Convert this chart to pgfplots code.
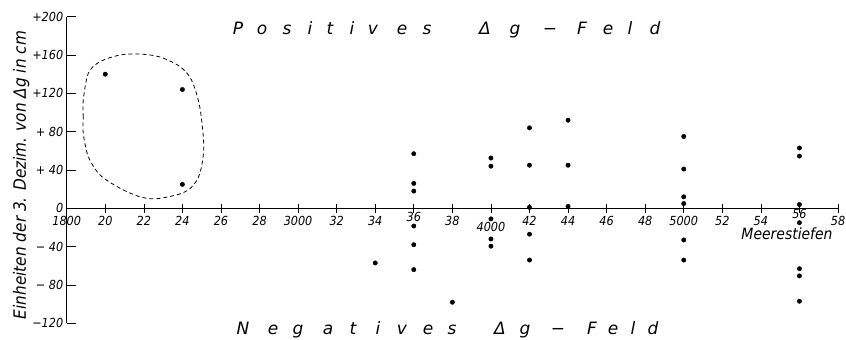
\documentclass[border=0pt]{standalone}
\usepackage{fontspec}
\setmainfont{DejaVu Sans Condensed}
\newfontfamily\lettering{DejaVu Sans}
\usepackage{pgfplots}
\pgfplotsset{compat=1.18}
\begin{document}
\begin{tikzpicture}
\begin{axis}[
  scale only axis, width=771.3pt, height=306.6pt,
  xmin=1800, xmax=5800, ymin=-120, ymax=200,
  axis x line=middle, axis y line=left,
  axis line style={-, line width=0.8pt},
  xtick={1800,2000,...,5800},
  xticklabels={1800,20,22,24,26,28,3000,32,34,\raisebox{4pt}{36},38,\raisebox{-6pt}{4000},42,44,46,48,5000,52,54,\raisebox{7pt}{56},58},
  ytick={-120,-80,...,200},
  yticklabels={−120,− 80,− 40,0,+ 40,+ 80,+120,+160,+200},
  hide obscured x ticks=false, hide obscured y ticks=false,
  xtick align=center, ytick align=inside,
  major tick length=9pt,
  tick style={black, line width=0.6pt},
  tick label style={font=\fontsize{12.5}{13}\selectfont\itshape},
  xticklabel style={text height=9pt, text depth=0pt},
  /pgf/number format/assume math mode=true,
  clip=false,
]
\addplot[only marks, mark=*, mark size=2.2pt, black] coordinates {
  (2000,140)
  (2400,124) (2400,25)
  (3400,-57)
  (3600,57) (3600,26) (3600,18) (3600,-18.5) (3600,-38) (3600,-64)
  (3800,-98)
  (4000,52.5) (4000,44) (4000,-11) (4000,-32) (4000,-39.5)
  (4200,84) (4200,45) (4200,1) (4200,-27) (4200,-54)
  (4400,92) (4400,45) (4400,2)
  (5000,75) (5000,41) (5000,12) (5000,5) (5000,-33) (5000,-54)
  (5600,63) (5600,54.5) (5600,4) (5600,-15) (5600,-63) (5600,-70.5) (5600,-97)
};
\addplot[smooth, black, line width=0.8pt, dash pattern=on 4pt off 3pt] coordinates {
  (1886,95) (1886,113) (1912,141) (1972,153) (2076,160) (2180,161) (2283,158)
  (2387,148) (2447,134) (2490,106) (2511,64) (2490,36) (2447,22) (2387,15)
  (2266,10) (2180,12) (2076,21) (1972,35) (1912,54) (1886,78) (1886,95)
};
\end{axis}
\begin{scope}[shift={(current axis.south west)}, xshift=-66.7pt, yshift=323.3pt, x=1pt, y=-1pt]
  \foreach \px/\c in {238/P,262/o,287/s,310/i,330/t,352/i,373/v,402/e,427/s,485/Δ,515/g,550/−,582/F,608/e,630/l,655/d}
    \node[anchor=base, inner sep=0pt, font=\lettering\fontsize{17}{17}\selectfont\itshape] at (\px,35) {\c};
  \foreach \px/\c in {243/N,273/e,298/g,328/a,353/t,378/i,402/v,428/e,452/s,500/Δ,525/g,558/−,592/F,613/e,633/l,653/d}
    \node[anchor=base, inner sep=0pt, font=\lettering\fontsize{17}{17}\selectfont\itshape] at (\px,335) {\c};
  \node[anchor=base, inner sep=0pt, rotate=90, font=\fontsize{17}{17}\selectfont\itshape] at (26,175) {Einheiten der 3. Dezim. von Δg in cm};
  \node[anchor=base, inner sep=0pt, font=\fontsize{15.5}{15.5}\selectfont\itshape] at (787,240) {Meerestiefen};
  \pgfresetboundingbox
  \path[use as bounding box] (0,0) rectangle (846,340);
\end{scope}
\end{tikzpicture}
\end{document}
